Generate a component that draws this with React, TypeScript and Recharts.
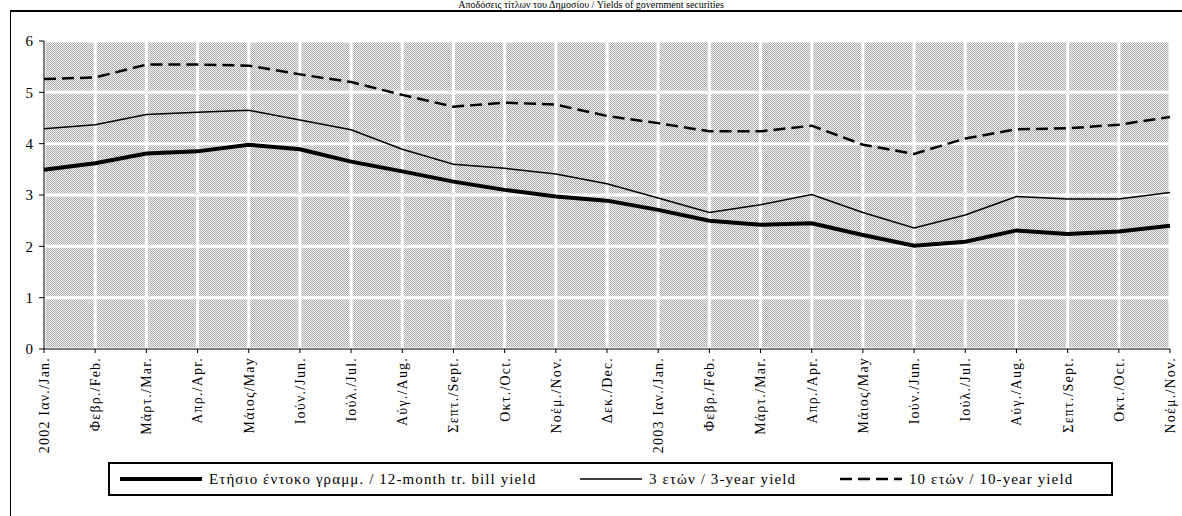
import React from 'react'
import { LineChart, Line, XAxis, YAxis, CartesianGrid } from 'recharts'

const months = [
  '2002 Ιαν./Jan.', 'Φεβρ./Feb.', 'Μάρτ./Mar.', 'Απρ./Apr.', 'Μάιος/May', 'Ιούν./Jun.',
  'Ιούλ./Jul.', 'Αύγ./Aug.', 'Σεπτ./Sept.', 'Οκτ./Oct.', 'Νοέμ./Nov.', 'Δεκ./Dec.',
  '2003 Ιαν./Jan.', 'Φεβρ./Feb.', 'Μάρτ./Mar.', 'Απρ./Apr.', 'Μάιος/May', 'Ιούν./Jun.',
  'Ιούλ./Jul.', 'Αύγ./Aug.', 'Σεπτ./Sept.', 'Οκτ./Oct.', 'Νοέμ./Nov.',
]

const billYield = [3.49, 3.62, 3.81, 3.85, 3.98, 3.89, 3.65, 3.46, 3.26, 3.1, 2.97, 2.89, 2.71, 2.5, 2.42, 2.45, 2.22, 2.01, 2.09, 2.31, 2.24, 2.29, 2.4]
const yield3 = [4.29, 4.37, 4.57, 4.61, 4.65, 4.46, 4.27, 3.89, 3.6, 3.52, 3.41, 3.22, 2.94, 2.66, 2.81, 3.01, 2.66, 2.36, 2.61, 2.97, 2.92, 2.92, 3.05]
const yield10 = [5.26, 5.29, 5.54, 5.54, 5.52, 5.35, 5.2, 4.95, 4.72, 4.8, 4.76, 4.54, 4.4, 4.24, 4.24, 4.35, 3.98, 3.8, 4.1, 4.28, 4.3, 4.37, 4.52]

const yTicks = [0, 1, 2, 3, 4, 5, 6]

const data = months.map((m, i) => ({
  idx: i,
  month: m,
  bill: billYield[i],
  y3: yield3[i],
  y10: yield10[i],
}))

const font = "'Liberation Serif', 'Times New Roman', serif"

const XTick = (props: any) => {
  const { x, y, payload } = props
  return (
    <text
      x={x}
      y={y}
      dy="0.35em"
      transform={`rotate(-90 ${x} ${y})`}
      textAnchor="end"
      fontSize={14}
      letterSpacing={1.2}
      fontFamily={font}
      fill="#000"
    >
      {months[payload.value]}
    </text>
  )
}

const legendItems = [
  { label: 'Ετήσιο έντοκο γραμμ. / 12-month tr. bill yield', width: 4, dash: undefined, left: 10, len: 82 },
  { label: '3 ετών / 3-year yield', width: 1.5, dash: undefined, left: 470, len: 62 },
  { label: '10 ετών / 10-year yield', width: 2.5, dash: '12 6', left: 730, len: 62 },
]

export default function App() {
  return (
    <div style={{ position: 'absolute', left: 0, top: 0, width: 1182, height: 516, background: '#fff', overflow: 'hidden', fontFamily: font }}>
      <svg width={0} height={0} style={{ position: 'absolute' }}>
        <defs>
          <pattern id="dots" width={2} height={2} patternUnits="userSpaceOnUse">
            <rect width={2} height={2} fill="#f4f4f4" />
            <rect x={0} y={0} width={1} height={1} fill="#aaaaaa" />
            <rect x={1} y={1} width={1} height={1} fill="#aaaaaa" />
          </pattern>
        </defs>
      </svg>

      {/* title + outer frame */}
      <div style={{ position: 'absolute', left: 0, width: 1182, top: 0, textAlign: 'center', fontSize: 10, lineHeight: '10px', fontFamily: font }}>
        Αποδόσεις τίτλων του Δημοσίου / Yields of government securities
      </div>
      <div style={{ position: 'absolute', left: 10, top: 10, width: 1200, height: 600, borderTop: '2px solid #000', borderLeft: '1px solid #000' }} />

      <div style={{ position: 'absolute', left: 0, top: 0 }}>
        <LineChart width={1182} height={516} data={data} margin={{ top: 41, right: 12, left: 0, bottom: 0 }}>
          <CartesianGrid stroke="#fff" strokeWidth={3} fill="url(#dots)" fillOpacity={1} />
          <XAxis
            dataKey="idx"
            type="category"
            interval={0}
            height={167}
            tickSize={4}
            tickMargin={4}
            stroke="#000"
            tick={<XTick />}
          />
          <YAxis
            domain={[0, 6]}
            ticks={yTicks}
            width={44}
            tickSize={5}
            tickMargin={6}
            stroke="#000"
            tick={{ fill: '#000', fontSize: 15, fontFamily: font }}
          />
          <Line type="linear" dataKey="y10" stroke="#000" strokeWidth={2.5} strokeDasharray="12 6" dot={false} isAnimationActive={false} />
          <Line type="linear" dataKey="y3" stroke="#000" strokeWidth={1.5} dot={false} isAnimationActive={false} />
          <Line type="linear" dataKey="bill" stroke="#000" strokeWidth={4} dot={false} isAnimationActive={false} />
        </LineChart>
      </div>

      {/* legend */}
      <div style={{ position: 'absolute', left: 108, top: 462, width: 1001, height: 30, border: '2px solid #000', background: '#fff' }}>
        {legendItems.map((it) => (
          <div key={it.label} style={{ position: 'absolute', left: it.left, top: 0, height: 30, display: 'flex', alignItems: 'center' }}>
            <svg width={it.len} height={8}>
              <line x1={0} y1={4} x2={it.len} y2={4} stroke="#000" strokeWidth={it.width} strokeDasharray={it.dash} />
            </svg>
            <span style={{ marginLeft: 7, fontSize: 15, letterSpacing: 1.1, whiteSpace: 'nowrap', fontFamily: font }}>{it.label}</span>
          </div>
        ))}
      </div>
    </div>
  )
}
